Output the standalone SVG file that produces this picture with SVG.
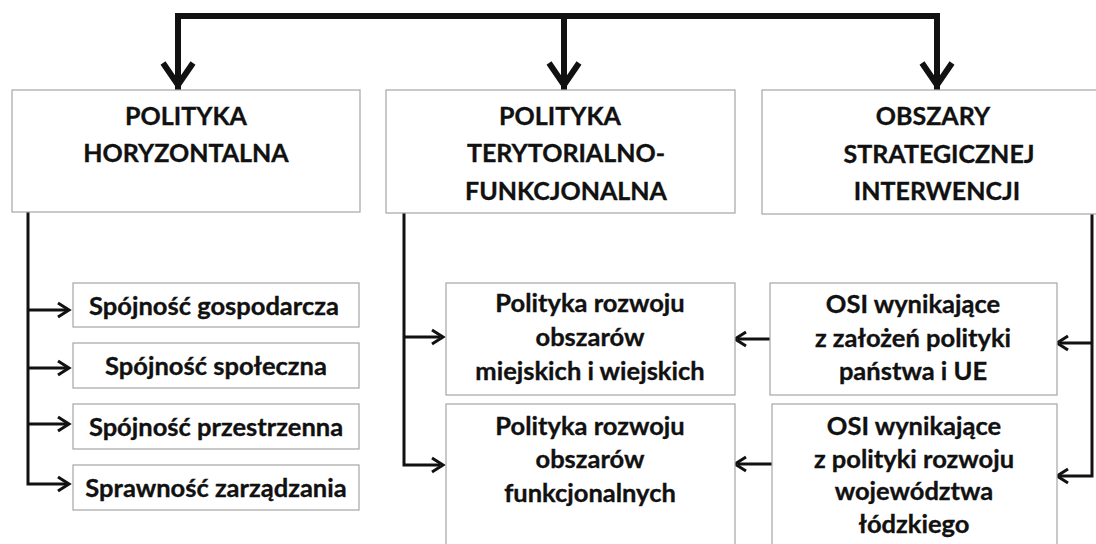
<svg xmlns="http://www.w3.org/2000/svg" width="1096" height="544" viewBox="0 0 1096 544">
<style>
.box{fill:#fff;stroke:#a6a6a6;stroke-width:1.2}
.h{font-family:Lato,"Open Sans","Liberation Sans",sans-serif;font-weight:bold;font-size:25px;fill:#111;stroke:#111;stroke-width:0.35;text-anchor:middle}
.t{font-family:Lato,"Open Sans","Liberation Sans",sans-serif;font-weight:bold;font-size:25.5px;fill:#111;stroke:#111;stroke-width:0.35;text-anchor:middle}
.big{fill:none;stroke:#111;stroke-width:6;stroke-linejoin:miter}
.sm{fill:none;stroke:#111;stroke-width:3;stroke-linejoin:miter}
</style>
<rect width="1096" height="544" fill="#fff"/>
<g id="connectors">
<path class="big" d="M178,90 V16 H937 V90 M564,16 V90"/>
<polyline class="big" points="163,63 178,85 193,63"/>
<polyline class="big" points="549,63 564,85 579,63"/>
<polyline class="big" points="922,63 937,85 952,63"/>
<path class="sm" d="M28,212 V484 H68 M28,310 H68 M28,368 H68 M28,424 H68"/>
<polyline class="sm" points="58,303 69,310 58,317"/>
<polyline class="sm" points="58,361 69,368 58,375"/>
<polyline class="sm" points="58,417 69,424 58,431"/>
<polyline class="sm" points="58,477 69,484 58,491"/>
<path class="sm" d="M404,213 V465 H440 M404,337 H440"/>
<polyline class="sm" points="432,330 443,337 432,344"/>
<polyline class="sm" points="432,458 443,465 432,472"/>
<path class="sm" d="M1092,214 V476 H1060 M1092,343 H1060"/>
<polyline class="sm" points="1068,336 1057,343 1068,350"/>
<polyline class="sm" points="1068,469 1057,476 1068,483"/>
<path class="sm" d="M770,339 H738 M772,464 H738"/>
<polyline class="sm" points="746,332 735,339 746,346"/>
<polyline class="sm" points="746,457 735,464 746,471"/>
</g>
<g id="polityka-horyzontalna">
<rect class="box" x="12" y="90" width="348" height="122"/>
<text class="h" x="186" y="125">POLITYKA</text>
<text class="h" x="186" y="162">HORYZONTALNA</text>
</g>
<g id="polityka-terytorialno">
<rect class="box" x="386" y="90" width="349" height="123"/>
<text class="h" x="560" y="125">POLITYKA</text>
<text class="h" x="566" y="162">TERYTORIALNO-</text>
<text class="h" x="566" y="200">FUNKCJONALNA</text>
</g>
<g id="osi">
<rect class="box" x="762" y="90" width="345" height="124"/>
<text class="h" x="933" y="125">OBSZARY</text>
<text class="h" x="939" y="163">STRATEGICZNEJ</text>
<text class="h" x="937" y="200">INTERWENCJI</text>
</g>
<g id="spojnosc-gospodarcza">
<rect class="box" x="73" y="283" width="286" height="44"/>
<text class="t" x="214" y="315">Spójność gospodarcza</text>
</g>
<g id="spojnosc-spoleczna">
<rect class="box" x="73" y="343" width="286" height="45"/>
<text class="t" x="216" y="375">Spójność społeczna</text>
</g>
<g id="spojnosc-przestrzenna">
<rect class="box" x="73" y="404" width="286" height="45"/>
<text class="t" x="216" y="436">Spójność przestrzenna</text>
</g>
<g id="sprawnosc-zarzadzania">
<rect class="box" x="73" y="465" width="286" height="45"/>
<text class="t" x="216" y="497">Sprawność zarządzania</text>
</g>
<g id="miejskie-wiejskie">
<rect class="box" x="446" y="283" width="289" height="112"/>
<text class="t" x="590" y="312">Polityka rozwoju</text>
<text class="t" x="590" y="346">obszarów</text>
<text class="t" x="590" y="380">miejskich i wiejskich</text>
</g>
<g id="funkcjonalne">
<rect class="box" x="446" y="404" width="289" height="150"/>
<text class="t" x="590" y="435">Polityka rozwoju</text>
<text class="t" x="590" y="468">obszarów</text>
<text class="t" x="590" y="502">funkcjonalnych</text>
</g>
<g id="osi-panstwa">
<rect class="box" x="770" y="283" width="287" height="112"/>
<text class="t" x="913" y="313">OSI wynikające</text>
<text class="t" x="913" y="347">z założeń polityki</text>
<text class="t" x="913" y="380">państwa i UE</text>
</g>
<g id="osi-wojewodztwa">
<rect class="box" x="772" y="404" width="285" height="150"/>
<text class="t" x="914" y="435">OSI wynikające</text>
<text class="t" x="914" y="468">z polityki rozwoju</text>
<text class="t" x="914" y="500">województwa</text>
<text class="t" x="914" y="533">łódzkiego</text>
</g>
</svg>
